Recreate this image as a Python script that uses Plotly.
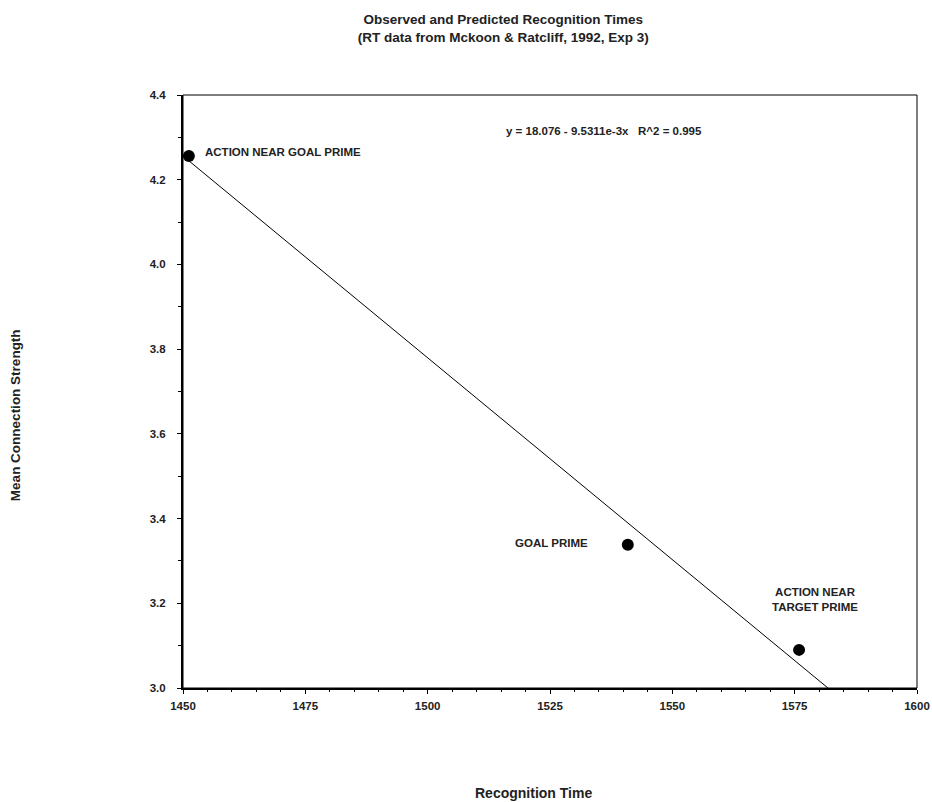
import plotly.graph_objects as go

# Observed data
recognition_time = [1451.2, 1540.9, 1575.9]
connection_strength = [4.256, 3.338, 3.090]
point_labels = ["ACTION NEAR GOAL PRIME", "GOAL PRIME", "ACTION NEAR<br>TARGET PRIME"]

# Regression line endpoints (y = 18.076 - 9.5311e-3 x), clipped to axes
fit_x = [1450.0, 1581.8]
fit_y = [4.256, 3.0]
equation_text = "y = 18.076 - 9.5311e-3x   R^2 = 0.995"

x_ticks = [1450, 1475, 1500, 1525, 1550, 1575, 1600]
y_ticks = [3.0, 3.2, 3.4, 3.6, 3.8, 4.0, 4.2, 4.4]

FONT = "Liberation Sans, Arial, sans-serif"
TXT = "#222"

fig = go.Figure()
fig.add_trace(go.Scatter(x=fit_x, y=fit_y, mode="lines",
                         line=dict(color="black", width=1), showlegend=False,
                         hoverinfo="skip"))
fig.add_trace(go.Scatter(x=recognition_time, y=connection_strength, mode="markers",
                         marker=dict(color="black", size=12), showlegend=False,
                         cliponaxis=False))

# Point labels
label_pos = [
    dict(xanchor="left", yanchor="middle", xshift=14, yshift=4),
    dict(xanchor="right", yanchor="middle", xshift=-38, yshift=2),
    dict(xanchor="center", yanchor="bottom", xshift=16, yshift=35),
]
for xv, yv, txt, pos in zip(recognition_time, connection_strength, point_labels, label_pos):
    fig.add_annotation(x=xv, y=yv, text="<b>%s</b>" % txt, showarrow=False,
                       font=dict(family=FONT, size=11.5, color=TXT), align="center", **pos)

fig.add_annotation(xref="paper", yref="paper", x=0.574, y=0.939, text="<b>%s</b>" % equation_text,
                   showarrow=False, font=dict(family=FONT, size=11.5, color=TXT),
                   xanchor="center", yanchor="middle")

# Axis titles
fig.add_annotation(xref="paper", yref="paper", x=0.477, y=-0.177, text="<b>Recognition Time</b>",
                   showarrow=False, font=dict(family=FONT, size=14, color=TXT),
                   xanchor="center", yanchor="middle")
fig.add_annotation(xref="paper", yref="paper", x=-0.229, y=0.46, text="<b>Mean Connection Strength</b>",
                   showarrow=False, textangle=-90, font=dict(family=FONT, size=13.5, color=TXT),
                   xanchor="center", yanchor="middle")

# Thin frame for top/right
fig.add_shape(type="rect", xref="paper", yref="paper", x0=0, y0=0, x1=1, y1=1,
              line=dict(color="black", width=1), layer="above")

fig.update_layout(
    width=932, height=802,
    margin=dict(l=183, r=15, t=95, b=114),
    paper_bgcolor="white", plot_bgcolor="white",
    font=dict(family=FONT, color=TXT),
    title=dict(text="<b>Observed and Predicted Recognition Times<br>(RT data from Mckoon & Ratcliff, 1992, Exp 3)</b>",
               x=0.54, xanchor="center", y=0.9695, yanchor="middle", yref="container",
               font=dict(family=FONT, size=13.5, color=TXT)),
    xaxis=dict(range=[1450, 1600], tickvals=x_ticks, ticktext=["<b>%d</b>" % v for v in x_ticks],
               showgrid=False, zeroline=False, showline=True, linecolor="black", linewidth=2,
               ticks="outside", ticklen=4, tickcolor="black", tickwidth=1, ticklabelstandoff=2,
               tickfont=dict(family=FONT, size=11.5, color=TXT), automargin=False,
               minor=dict(dtick=5, tick0=1450, ticks="outside", ticklen=2, tickcolor="black", showgrid=False)),
    yaxis=dict(range=[3.0, 4.4], tickvals=y_ticks, ticktext=["<b>%.1f</b>" % v for v in y_ticks],
               showgrid=False, zeroline=False, showline=True, linecolor="black", linewidth=2,
               ticks="outside", ticklen=4, tickcolor="black", tickwidth=1, ticklabelstandoff=9,
               tickfont=dict(family=FONT, size=11.5, color=TXT), automargin=False,
               minor=dict(dtick=0.1, tick0=3.0, ticks="outside", ticklen=3, tickcolor="black", showgrid=False)),
)

fig.write_html("out.html", config={"displayModeBar": False},
               post_script="document.body.style.margin='0';document.body.style.overflow='hidden';")
